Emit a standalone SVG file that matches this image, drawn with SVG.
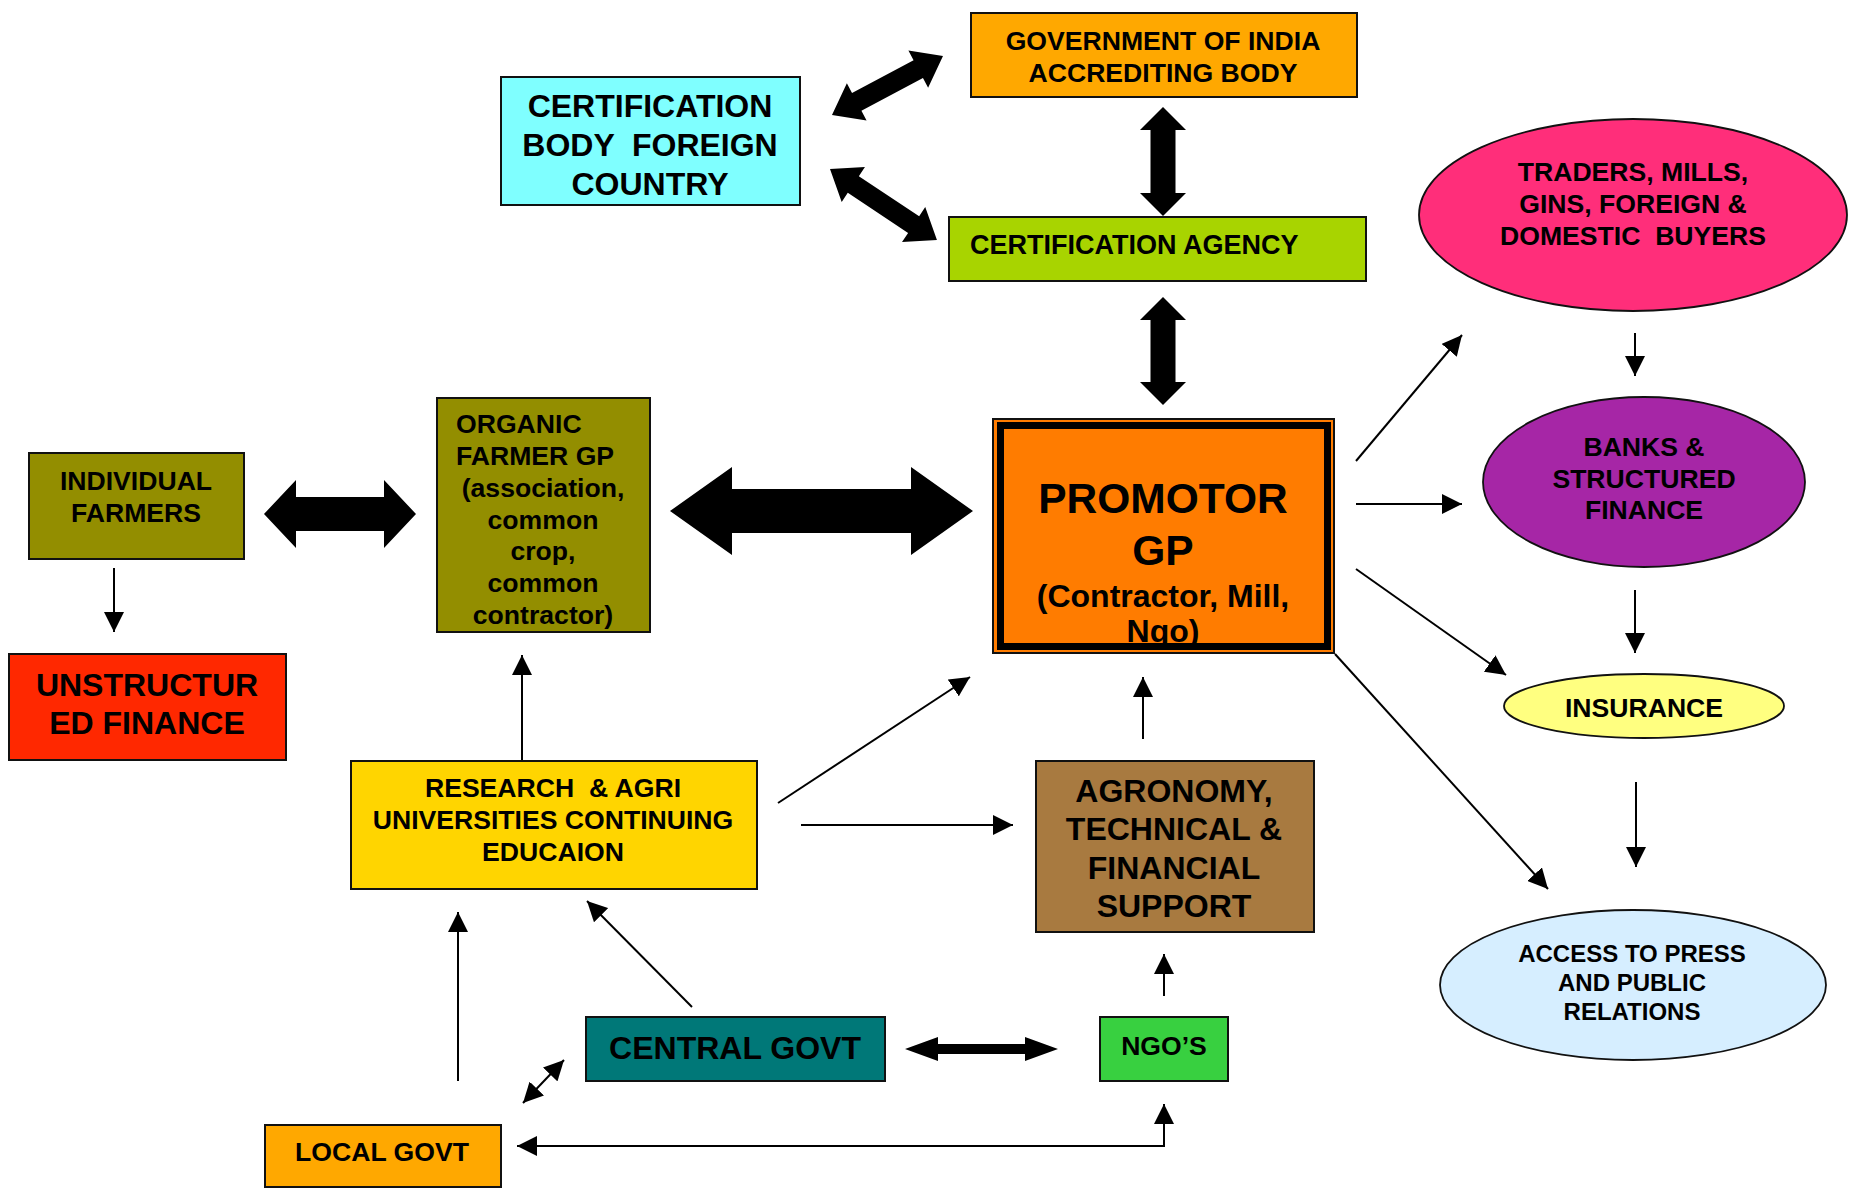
<svg xmlns="http://www.w3.org/2000/svg" width="1860" height="1193" viewBox="0 0 1860 1193">
<defs>
<style>
text{font-family:"Liberation Sans",Arial,sans-serif;font-weight:bold;fill:#000;text-anchor:middle}
.box{stroke:#111;stroke-width:2}
.ell{stroke:#111;stroke-width:1.8}
.ln{stroke:#000;stroke-width:2;fill:none}
.blk{fill:#000}
.f26{font-size:26.6px}
.f31{font-size:32px}
.l{text-anchor:start}
</style>
<marker id="ah" markerWidth="20" markerHeight="20" refX="20" refY="10" orient="auto" markerUnits="userSpaceOnUse"><path d="M0,0 L20,10 L0,20 Z" fill="#000"/></marker>
<marker id="as" markerWidth="20" markerHeight="20" refX="20" refY="10" orient="auto-start-reverse" markerUnits="userSpaceOnUse"><path d="M0,0 L20,10 L0,20 Z" fill="#000"/></marker>
</defs>
<rect width="1860" height="1193" fill="#fff"/>

<g id="connectors">
<path class="blk" transform="translate(832,115) rotate(-28)" d="M0,0 L28,-21 L28,-10 L97.7,-10 L97.7,-21 L125.7,0 L97.7,21 L97.7,10 L28,10 L28,21 Z"/>
<path class="blk" transform="translate(830,169) rotate(33.6)" d="M0,0 L28,-21 L28,-10 L100.4,-10 L100.4,-21 L128.4,0 L100.4,21 L100.4,10 L28,10 L28,21 Z"/>
<path class="blk" transform="translate(1163,107) rotate(90)" d="M0,0 L23,-23 L23,-12.5 L86,-12.5 L86,-23 L109,0 L86,23 L86,12.5 L23,12.5 L23,23 Z"/>
<path class="blk" transform="translate(1163,297) rotate(90)" d="M0,0 L23,-23 L23,-12.5 L85,-12.5 L85,-23 L108,0 L85,23 L85,12.5 L23,12.5 L23,23 Z"/>
<path class="blk" transform="translate(264,514)" d="M0,0 L32,-34 L32,-17 L120,-17 L120,-34 L152,0 L120,34 L120,17 L32,17 L32,34 Z"/>
<path class="blk" transform="translate(670,511)" d="M0,0 L62,-44 L62,-22 L241,-22 L241,-44 L303,0 L241,44 L241,22 L62,22 L62,44 Z"/>
<path class="blk" transform="translate(905,1049)" d="M0,0 L33,-12 L33,-5 L120,-5 L120,-12 L153,0 L120,12 L120,5 L33,5 L33,12 Z"/>
<line class="ln" x1="523" y1="1103" x2="564" y2="1060" marker-start="url(#as)" marker-end="url(#ah)"/>
<line class="ln" x1="114" y1="568" x2="114" y2="632" marker-end="url(#ah)"/>
<line class="ln" x1="522" y1="760" x2="522" y2="655" marker-end="url(#ah)"/>
<line class="ln" x1="778" y1="803" x2="970" y2="677" marker-end="url(#ah)"/>
<line class="ln" x1="801" y1="825" x2="1013" y2="825" marker-end="url(#ah)"/>
<line class="ln" x1="1143" y1="739" x2="1143" y2="677" marker-end="url(#ah)"/>
<line class="ln" x1="692" y1="1007" x2="587" y2="901" marker-end="url(#ah)"/>
<line class="ln" x1="458" y1="1081" x2="458" y2="912" marker-end="url(#ah)"/>
<line class="ln" x1="1164" y1="996" x2="1164" y2="954" marker-end="url(#ah)"/>
<path class="ln" d="M517,1146 L1164,1146 L1164,1104" marker-start="url(#as)" marker-end="url(#ah)"/>
<line class="ln" x1="1356" y1="461" x2="1462" y2="335" marker-end="url(#ah)"/>
<line class="ln" x1="1356" y1="504" x2="1462" y2="504" marker-end="url(#ah)"/>
<line class="ln" x1="1356" y1="569" x2="1506" y2="675" marker-end="url(#ah)"/>
<line class="ln" x1="1335" y1="654" x2="1548" y2="889" marker-end="url(#ah)"/>
<line class="ln" x1="1635" y1="333" x2="1635" y2="376" marker-end="url(#ah)"/>
<line class="ln" x1="1635" y1="590" x2="1635" y2="653" marker-end="url(#ah)"/>
<line class="ln" x1="1636" y1="782" x2="1636" y2="867" marker-end="url(#ah)"/>
</g>

<g id="cert-foreign">
<rect class="box" x="501" y="77" width="299" height="128" fill="#7FFFFF"/>
<text class="f31" x="650" y="117">CERTIFICATION</text>
<text class="f31" x="650" y="156" xml:space="preserve">BODY  FOREIGN</text>
<text class="f31" x="650" y="195">COUNTRY</text>
</g>

<g id="govt-india">
<rect class="box" x="971" y="13" width="386" height="84" fill="#FFA800"/>
<text class="f26" x="1163" y="50">GOVERNMENT OF INDIA</text>
<text class="f26" x="1163" y="82">ACCREDITING BODY</text>
</g>

<g id="cert-agency">
<rect class="box" x="949" y="217" width="417" height="64" fill="#A8D400"/>
<text class="l" style="font-size:27px" x="970" y="254">CERTIFICATION AGENCY</text>
</g>

<g id="traders">
<ellipse class="ell" cx="1633" cy="215" rx="214" ry="96" fill="#FF2E7A"/>
<text class="f26" x="1633" y="181">TRADERS, MILLS,</text>
<text class="f26" x="1633" y="213">GINS, FOREIGN &amp;</text>
<text class="f26" x="1633" y="245" xml:space="preserve">DOMESTIC  BUYERS</text>
</g>

<g id="banks">
<ellipse class="ell" cx="1644" cy="482" rx="161" ry="85" fill="#A626A6"/>
<text class="f26" x="1644" y="456">BANKS &amp;</text>
<text class="f26" x="1644" y="488">STRUCTURED</text>
<text class="f26" x="1644" y="519">FINANCE</text>
</g>

<g id="insurance">
<ellipse class="ell" cx="1644" cy="706" rx="140" ry="32" fill="#FFFF80"/>
<text class="f26" x="1644" y="717">INSURANCE</text>
</g>

<g id="access">
<ellipse class="ell" cx="1633" cy="985" rx="193" ry="75" fill="#D6EEFF"/>
<text style="font-size:24px" x="1632" y="962">ACCESS TO PRESS</text>
<text style="font-size:24px" x="1632" y="991">AND PUBLIC</text>
<text style="font-size:24px" x="1632" y="1020">RELATIONS</text>
</g>

<g id="individual">
<rect class="box" x="29" y="453" width="215" height="106" fill="#938E00"/>
<text class="f26" x="136" y="490">INDIVIDUAL</text>
<text class="f26" x="136" y="522">FARMERS</text>
</g>

<g id="organic">
<rect class="box" x="437" y="398" width="213" height="234" fill="#938E00"/>
<text class="f26 l" x="456" y="433">ORGANIC</text>
<text class="f26 l" x="456" y="465">FARMER GP</text>
<text class="f26" x="543" y="497">(association,</text>
<text class="f26" x="543" y="529">common</text>
<text class="f26" x="543" y="560">crop,</text>
<text class="f26" x="543" y="592">common</text>
<text class="f26" x="543" y="624">contractor)</text>
</g>

<g id="unstructured">
<rect class="box" x="9" y="654" width="277" height="106" fill="#FF2800"/>
<text class="f31" x="147" y="696">UNSTRUCTUR</text>
<text class="f31" x="147" y="734">ED FINANCE</text>
</g>

<g id="promotor">
<rect x="993" y="419" width="341" height="234" fill="#FF7C00" stroke="#111" stroke-width="2"/>
<rect x="1000.5" y="425.5" width="327" height="221" fill="none" stroke="#000" stroke-width="7"/>
<text style="font-size:42.5px" x="1163" y="513">PROMOTOR</text>
<text style="font-size:42.5px" x="1163" y="565">GP</text>
<text style="font-size:32px" x="1163" y="607">(Contractor, Mill,</text>
<text style="font-size:32px" x="1163" y="642">Ngo)</text>
</g>

<g id="research">
<rect class="box" x="351" y="761" width="406" height="128" fill="#FFD500"/>
<text class="f26" x="553" y="797" xml:space="preserve">RESEARCH  &amp; AGRI</text>
<text class="f26" x="553" y="829">UNIVERSITIES CONTINUING</text>
<text class="f26" x="553" y="861">EDUCAION</text>
</g>

<g id="agronomy">
<rect class="box" x="1036" y="761" width="278" height="171" fill="#A87A40"/>
<text class="f31" x="1174" y="802">AGRONOMY,</text>
<text class="f31" x="1174" y="840">TECHNICAL &amp;</text>
<text class="f31" x="1174" y="879">FINANCIAL</text>
<text class="f31" x="1174" y="917">SUPPORT</text>
</g>

<g id="central-govt">
<rect class="box" x="586" y="1017" width="299" height="64" fill="#007878"/>
<text class="f31" x="735" y="1059">CENTRAL GOVT</text>
</g>

<g id="ngos">
<rect class="box" x="1100" y="1017" width="128" height="64" fill="#38D040"/>
<text class="f26" x="1164" y="1055">NGO’S</text>
</g>

<g id="local-govt">
<rect class="box" x="265" y="1125" width="236" height="62" fill="#FFA800"/>
<text class="f26" x="382" y="1161">LOCAL GOVT</text>
</g>
</svg>
